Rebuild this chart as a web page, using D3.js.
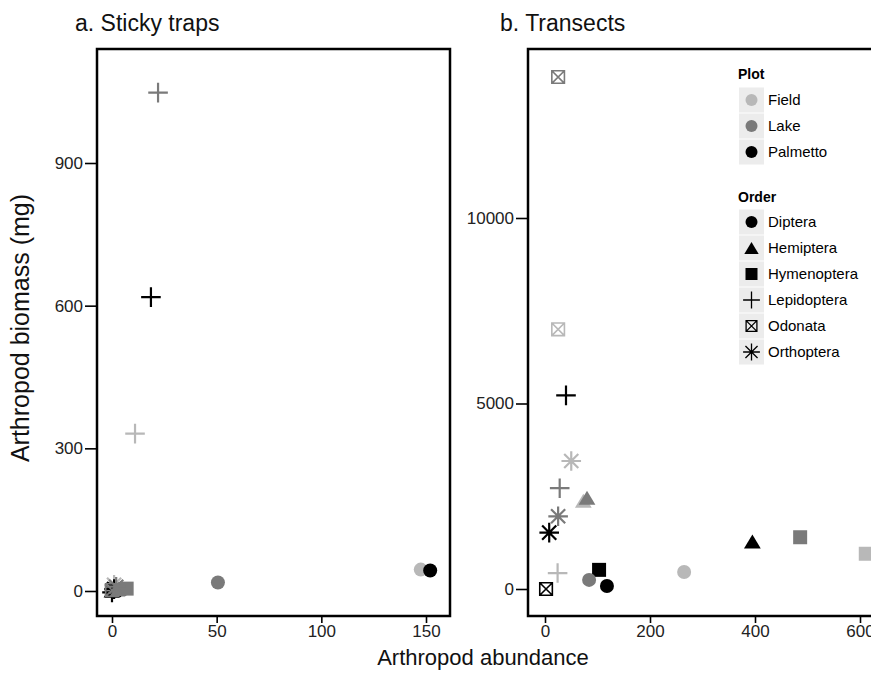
<!DOCTYPE html>
<html>
<head>
<meta charset="utf-8">
<script src="https://cdn.jsdelivr.net/npm/d3@7"></script>
<style>
  body { margin: 0; background: #fff; }
  text { font-family: "Liberation Sans", Arial, sans-serif; }
</style>
</head>
<body>
<svg width="871" height="681"></svg>
<script>
// -----------------------------
// DATA
// -----------------------------
const plots = ["Field", "Lake", "Palmetto"];
const orders = ["Diptera", "Hemiptera", "Hymenoptera", "Lepidoptera", "Odonata", "Orthoptera"];

// sticky traps: [plot, order, abundance, biomass]
const stickyPoints = [
  ["Field", "Odonata", 0, 0],
  ["Palmetto", "Odonata", 0, 1],
  ["Field", "Hemiptera", 1, 2],
  ["Palmetto", "Hemiptera", 0, 1],
  ["Field", "Hymenoptera", 3, 2],
  ["Palmetto", "Hymenoptera", 1, 3],
  ["Field", "Orthoptera", 1, 13],
  ["Palmetto", "Orthoptera", 1, 4],
  ["Palmetto", "Lepidoptera", 0, -3],
  ["Lake", "Odonata", 0, 2],
  ["Lake", "Hemiptera", 3, 4],
  ["Lake", "Hymenoptera", 7, 5],
  ["Lake", "Orthoptera", 2, 9],
  ["Field", "Lepidoptera", 11, 331],
  ["Palmetto", "Lepidoptera", 18.6, 618],
  ["Lake", "Lepidoptera", 22, 1048],
  ["Lake", "Diptera", 50.6, 18],
  ["Field", "Diptera", 147.5, 45],
  ["Palmetto", "Diptera", 152, 43]
];

// transects: [plot, order, abundance, biomass]
const transectPoints = [
  ["Lake", "Odonata", 25, 13800],
  ["Field", "Odonata", 25, 7000],
  ["Palmetto", "Odonata", 2, 0],
  ["Palmetto", "Lepidoptera", 40, 5220],
  ["Lake", "Lepidoptera", 28, 2717],
  ["Field", "Lepidoptera", 24, 430],
  ["Field", "Orthoptera", 50, 3450],
  ["Lake", "Orthoptera", 25, 1960],
  ["Palmetto", "Orthoptera", 8, 1520],
  ["Field", "Hemiptera", 73, 2380],
  ["Lake", "Hemiptera", 80, 2460],
  ["Palmetto", "Hemiptera", 395, 1280],
  ["Palmetto", "Hymenoptera", 103, 516],
  ["Lake", "Hymenoptera", 486, 1395],
  ["Field", "Hymenoptera", 611, 950],
  ["Lake", "Diptera", 84, 245],
  ["Palmetto", "Diptera", 118, 80],
  ["Field", "Diptera", 265, 460]
];

const stickyXTicks = [0, 50, 100, 150];
const stickyYTicks = [0, 300, 600, 900];
const transectXTicks = [0, 200, 400, 600];
const transectYTicks = [0, 5000, 10000];

// -----------------------------
// SETUP
// -----------------------------
const svg = d3.select("svg");
const plotColor = d3.scaleOrdinal().domain(plots).range(["#b8b8b8", "#7a7a7a", "#000000"]);

// custom shape path around (0,0), s = size
function shapePath(order, s) {
  const h = s / 2;
  switch (order) {
    case "Diptera": return d3.symbol(d3.symbolCircle, Math.PI * h * h)();
    case "Hemiptera": {
      const w = s * 1.2, t = s * 1.0;
      return `M${-w / 2},${t / 2}L${w / 2},${t / 2}L0,${-t / 2}Z`;
    }
    case "Hymenoptera": return `M${-h},${-h}h${s}v${s}h${-s}Z`;
    case "Lepidoptera": {
      const l = s * 0.7;
      return `M${-l},0H${l}M0,${-l}V${l}`;
    }
    case "Odonata": {
      const b = s * 0.45;
      return `M${-b},${-b}h${2 * b}v${2 * b}h${-2 * b}ZM${-b},${-b}L${b},${b}M${b},${-b}L${-b},${b}`;
    }
    case "Orthoptera": {
      const l = s * 0.7, d = l * 0.72;
      return `M${-l},0H${l}M0,${-l}V${l}M${-d},${-d}L${d},${d}M${d},${-d}L${-d},${d}`;
    }
  }
}
const filled = o => o === "Diptera" || o === "Hemiptera" || o === "Hymenoptera";

function drawPoints(g, pts, x, y) {
  g.selectAll("path.pt")
   .data(pts)
   .enter()
   .append("path")
   .attr("class", "pt")
   .attr("transform", d => `translate(${x(d[2])},${y(d[3])})`)
   .attr("d", d => shapePath(d[1], 14))
   .attr("fill", d => filled(d[1]) ? plotColor(d[0]) : "none")
   .attr("stroke", d => filled(d[1]) ? "none" : plotColor(d[0]))
   .attr("stroke-width", d => d[1] === "Odonata" ? 1.6 : 2.2);
}

function drawPanel(opts) {
  const { x, y, left, right, top, bottom, xTicks, yTicks, pts, title, titleX } = opts;

  const clipId = "clip" + Math.round(left);
  svg.append("clipPath").attr("id", clipId)
     .append("rect").attr("x", left).attr("y", top)
     .attr("width", right - left).attr("height", bottom - top);

  const g = svg.append("g").attr("clip-path", `url(#${clipId})`);
  drawPoints(g, pts, x, y);

  // frame
  svg.append("rect")
     .attr("x", left).attr("y", top)
     .attr("width", right - left).attr("height", bottom - top)
     .attr("fill", "none").attr("stroke", "#000").attr("stroke-width", 2.5);

  // axes
  const ax = svg.append("g")
     .attr("transform", `translate(0,${bottom + 1})`)
     .call(d3.axisBottom(x).tickValues(xTicks).tickFormat(d3.format("d")).tickSize(6).tickPadding(2));
  const ay = svg.append("g")
     .attr("transform", `translate(${left - 1},0)`)
     .call(d3.axisLeft(y).tickValues(yTicks).tickFormat(d3.format("d")).tickSize(11).tickPadding(2));
  [ax, ay].forEach(a => {
    a.select(".domain").remove();
    a.selectAll("line").attr("stroke", "#000").attr("stroke-width", 1.6);
    a.selectAll("text").attr("fill", "#222").style("font-size", "17px")
     .style("font-family", "'Liberation Sans', Arial, sans-serif");
  });

  svg.append("text")
     .attr("x", titleX).attr("y", 31)
     .style("font-size", "23px").attr("fill", "#111")
     .text(title);
}

// -----------------------------
// SCALES
// -----------------------------
const xA = d3.scaleLinear().domain([0, 150]).range([112, 426]);
const yA = d3.scaleLinear().domain([0, 900]).range([591, 163]);
const xB = d3.scaleLinear().domain([0, 600]).range([545, 860]);
const yB = d3.scaleLinear().domain([0, 10000]).range([589, 218]);

drawPanel({ x: xA, y: yA, left: 97, right: 450, top: 49, bottom: 616,
            xTicks: stickyXTicks, yTicks: stickyYTicks, pts: stickyPoints,
            title: "a. Sticky traps", titleX: 75 });
drawPanel({ x: xB, y: yB, left: 528, right: 885, top: 49, bottom: 616,
            xTicks: transectXTicks, yTicks: transectYTicks, pts: transectPoints,
            title: "b. Transects", titleX: 500 });

// -----------------------------
// LABELS
// -----------------------------
svg.append("text")
   .attr("x", 483).attr("y", 665)
   .style("text-anchor", "middle").style("font-size", "22px").attr("fill", "#111")
   .text("Arthropod abundance");

svg.append("text")
   .attr("transform", "translate(29,328) rotate(-90)")
   .style("text-anchor", "middle").style("font-size", "25px").attr("fill", "#111")
   .text("Arthropod biomass (mg)");

// -----------------------------
// LEGEND
// -----------------------------
const legend = svg.append("g").attr("transform", "translate(739,0)");

function legendBlock(title, titleY, items, startY, drawKey) {
  legend.append("text")
     .attr("x", -1).attr("y", titleY)
     .style("font-size", "14px").style("font-weight", "bold").attr("fill", "#000")
     .text(title);
  items.forEach((it, i) => {
    const cy = startY + i * 26;
    legend.append("rect")
       .attr("x", 0).attr("y", cy - 12.5).attr("width", 25).attr("height", 25)
       .attr("fill", "#ececec");
    drawKey(it, cy);
    legend.append("text")
       .attr("x", 29).attr("y", cy + 5)
       .style("font-size", "15px").attr("fill", "#000")
       .text(it);
  });
}

legendBlock("Plot", 79, plots, 100, (p, cy) => {
  legend.append("circle").attr("cx", 12.5).attr("cy", cy).attr("r", 6)
        .attr("fill", plotColor(p));
});

legendBlock("Order", 202, orders, 222, (o, cy) => {
  legend.append("path")
     .attr("transform", `translate(12.5,${cy})`)
     .attr("d", shapePath(o, 12))
     .attr("fill", filled(o) ? "#000" : "none")
     .attr("stroke", filled(o) ? "none" : "#000")
     .attr("stroke-width", 1.3);
});
</script>
</body>
</html>
